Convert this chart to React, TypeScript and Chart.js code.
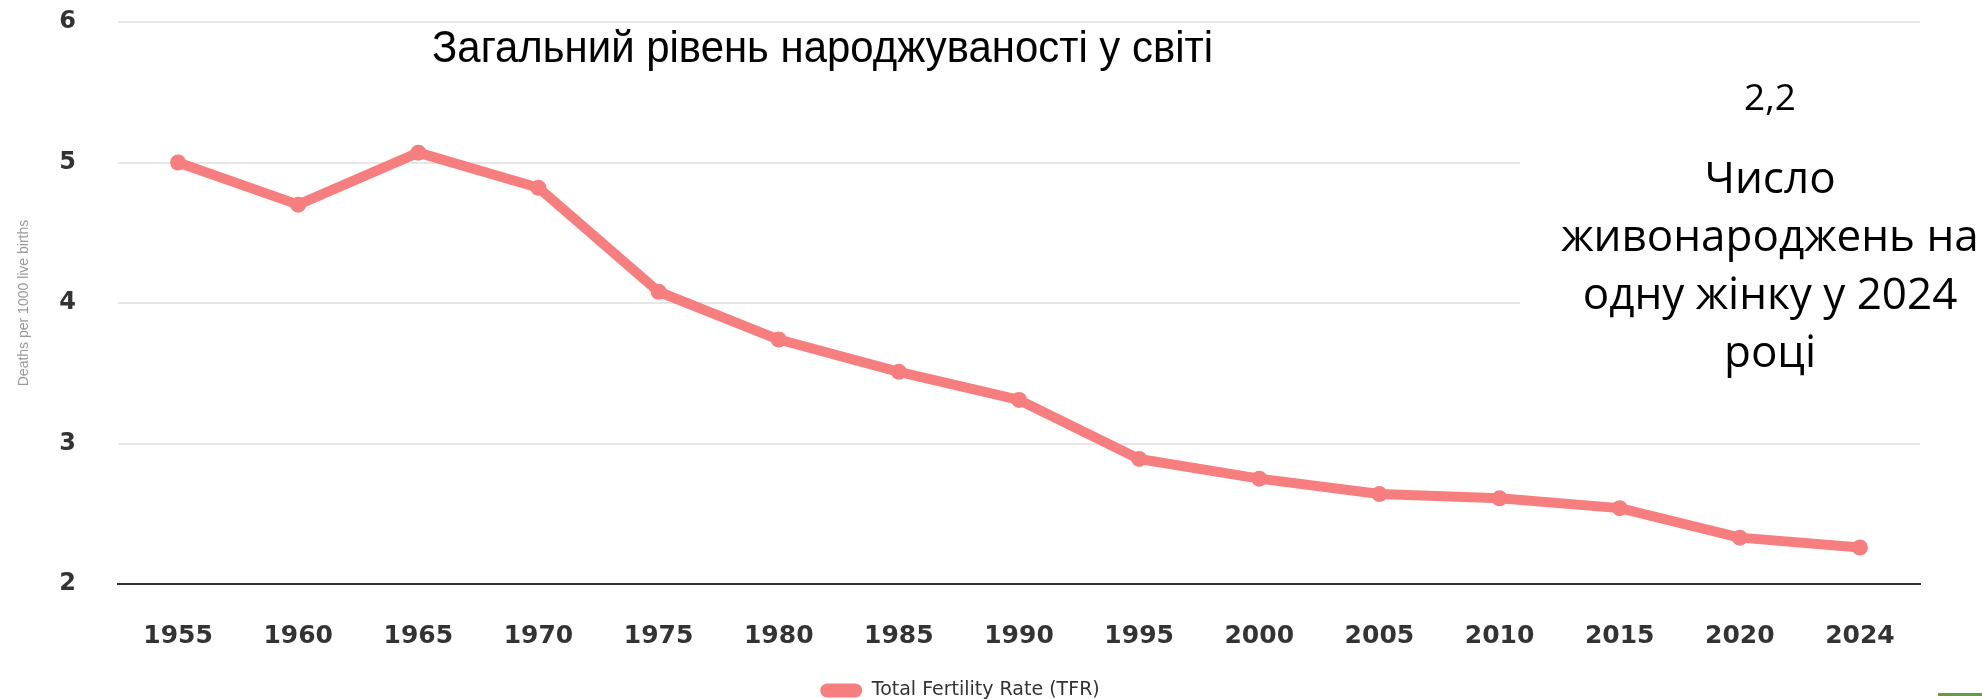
import React, { useEffect, useRef } from "react";
import { Chart, registerables } from "chart.js";

Chart.register(...registerables);

const years = ["1955", "1960", "1965", "1970", "1975", "1980", "1985", "1990", "1995", "2000", "2005", "2010", "2015", "2020", "2024"];
const tfr = [5.0, 4.7, 5.07, 4.82, 4.08, 3.74, 3.51, 3.31, 2.89, 2.75, 2.64, 2.61, 2.54, 2.33, 2.26];
const yTicks = [2, 3, 4, 5, 6];
const seriesLabel = "Total Fertility Rate (TFR)";
const yTitle = "Deaths per 1000 live births";
const chartTitle = "Загальний рівень народжуваності у світі";
const noteValue = "2,2";
const noteLines = ["Число", "живонароджень на", "одну жінку у 2024", "році"];

const LINE = "rgb(247,126,126)";

export default function App() {
  const canvasRef = useRef<HTMLCanvasElement | null>(null);
  const titleRef = useRef<HTMLSpanElement | null>(null);

  useEffect(() => {
    document.body.style.margin = "0";
    if (titleRef.current) {
      titleRef.current.style.transform = "none";
      const w = titleRef.current.getBoundingClientRect().width;
      if (w > 0) titleRef.current.style.transform = `scaleX(${781 / w})`;
    }
    const ctx = canvasRef.current!.getContext("2d")!;
    const chart = new Chart(ctx, {
      type: "line",
      data: {
        labels: years,
        datasets: [
          {
            label: seriesLabel,
            data: tfr,
            borderColor: LINE,
            backgroundColor: LINE,
            borderWidth: 10,
            pointRadius: 8,
            pointBorderWidth: 0,
            pointBackgroundColor: LINE,
            tension: 0,
            borderJoinStyle: "round",
            borderCapStyle: "round",
          },
        ],
      },
      options: {
        animation: false,
        responsive: true,
        maintainAspectRatio: false,
        layout: { padding: { top: 22, right: 62, bottom: 0, left: 0 } },
        plugins: {
          tooltip: { enabled: false },
          title: { display: false },
          legend: {
            position: "bottom",
            labels: {
              boxWidth: 42,
              boxHeight: 14,
              padding: 3,
              useBorderRadius: true,
              borderRadius: 7,
              color: "#333",
              font: { family: "DejaVu Sans", size: 19 },
              generateLabels: (c: any) =>
                (Chart.defaults.plugins.legend.labels as any).generateLabels(c).map((l: any) => ({ ...l, lineWidth: 0 })),
            },
          },
        },
        scales: {
          x: {
            offset: true,
            grid: { display: false },
            border: { display: true, color: "#333", width: 2 },
            ticks: {
              color: "#333",
              padding: 29,
              maxRotation: 0,
              autoSkip: false,
              font: { family: "DejaVu Sans", size: 25, weight: "bold" },
            },
            afterFit: (s: any) => {
              s.height = 94;
            },
          },
          y: {
            min: 2,
            max: 6,
            afterBuildTicks: (s: any) => {
              s.ticks = yTicks.map((v) => ({ value: v }));
            },
            grid: {
              color: "#e6e6e6",
              lineWidth: 2,
              drawTicks: true,
              tickLength: 42,
              tickColor: "rgba(0,0,0,0)",
            },
            border: { display: false },
            ticks: {
              color: "#333",
              padding: 0,
              font: { family: "DejaVu Sans", size: 24, weight: "bold" },
            },
            title: {
              display: true,
              text: yTitle,
              color: "#999",
              font: { family: "Liberation Sans", size: 14 },
              padding: { top: 16, bottom: 0 },
            },
            afterFit: (s: any) => {
              s.width = 118;
            },
          },
        },
      },
    });
    return () => chart.destroy();
  }, []);

  return (
    <div style={{ position: "relative", width: 1982, height: 699, overflow: "hidden", background: "#fff" }}>
      <div style={{ position: "absolute", left: 0, top: 0, width: 1982, height: 710 }}>
        <canvas ref={canvasRef} />
      </div>
      <div
        style={{
          position: "absolute",
          left: 432,
          top: 25,
          whiteSpace: "nowrap",
          fontFamily: "'Liberation Sans', Arial, sans-serif",
          fontSize: 44,
          lineHeight: "44px",
          color: "#000",
        }}
      >
        <span ref={titleRef} style={{ display: "inline-block", transformOrigin: "left top" }}>
          {chartTitle}
        </span>
      </div>
      <div style={{ position: "absolute", left: 1520, top: 80, width: 462, height: 340, background: "#fff" }} />
      <div
        style={{
          position: "absolute",
          left: 1558,
          top: 78,
          width: 424,
          textAlign: "center",
          fontFamily: "'Open Sans', sans-serif",
          fontSize: 37,
          lineHeight: "36px",
          color: "#000",
        }}
      >
        {noteValue}
      </div>
      <div
        style={{
          position: "absolute",
          left: 1538,
          top: 147,
          width: 464,
          textAlign: "center",
          fontFamily: "'Open Sans', sans-serif",
          fontSize: 44,
          lineHeight: "58px",
          color: "#000",
          whiteSpace: "nowrap",
        }}
      >
        {noteLines.map((t, i) => (
          <div key={i}>{t}</div>
        ))}
      </div>
      <div style={{ position: "absolute", left: 1938, top: 693, width: 44, height: 3, background: "#5E9E3C" }} />
    </div>
  );
}
